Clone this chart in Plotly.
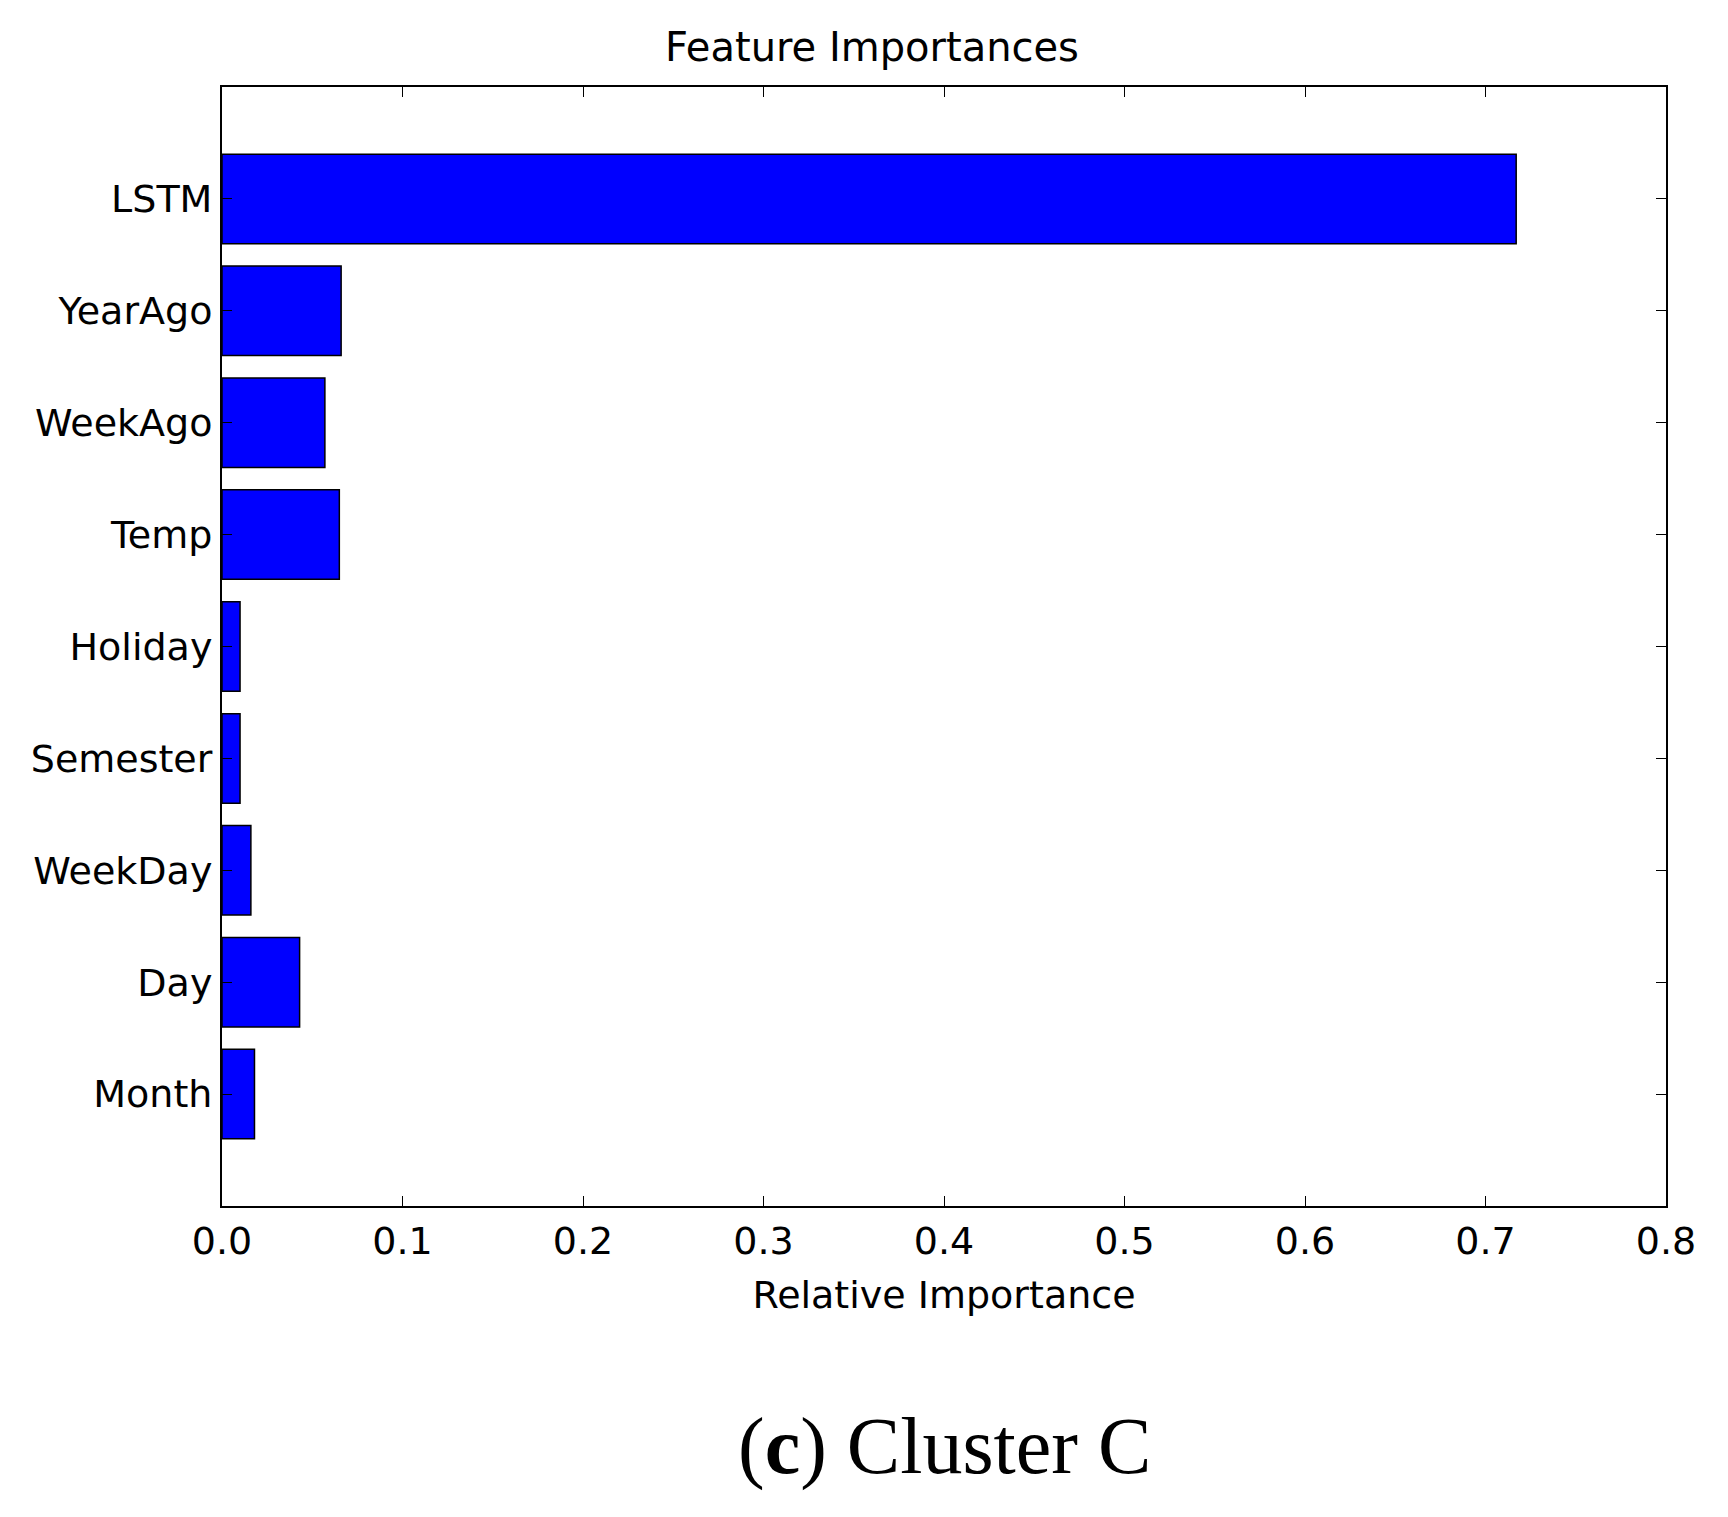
import plotly.graph_objects as go

features = ["Month", "Day", "WeekDay", "Semester", "Holiday", "Temp", "WeekAgo", "YearAgo", "LSTM"]
importances = [0.018, 0.043, 0.016, 0.010, 0.010, 0.065, 0.057, 0.066, 0.717]
xticks = [0.0, 0.1, 0.2, 0.3, 0.4, 0.5, 0.6, 0.7, 0.8]

fig = go.Figure(go.Bar(
    x=importances, y=list(range(len(features))), orientation="h", width=0.8,
    marker=dict(color="#0000ff", line=dict(color="black", width=1.5)),
))
axfont = dict(family="DejaVu Sans", size=38, color="black")
fig.update_layout(
    width=1728, height=1517, plot_bgcolor="white", paper_bgcolor="white",
    margin=dict(l=214, r=70, t=79, b=319), showlegend=False,
    title=dict(text="Feature Importances", x=0.5, xanchor="center", y=0.974, yanchor="middle",
               font=dict(family="DejaVu Sans", size=40, color="black")),
    xaxis=dict(range=[0, 0.8], tickvals=xticks, ticktext=[f"{v:.1f}" for v in xticks],
               showgrid=False, zeroline=False, showline=True, linecolor="black", linewidth=2,
               mirror="ticks", ticks="inside", ticklen=10, tickcolor="black", tickfont=axfont,
               title=dict(text="Relative Importance", font=axfont, standoff=20)),
    yaxis=dict(range=[-1, 9], tickvals=list(range(len(features))), ticktext=features,
               showgrid=False, zeroline=False, showline=True, linecolor="black", linewidth=2,
               mirror="ticks", ticks="inside", ticklen=10, tickcolor="black", tickfont=axfont),
    annotations=[dict(text="(<b>c</b>) Cluster C", x=0.5, y=-0.215, xref="paper", yref="paper",
                      xanchor="center", yanchor="middle", showarrow=False,
                      font=dict(family="Liberation Serif", size=80, color="black"))],
)
fig.write_html("out.html")
